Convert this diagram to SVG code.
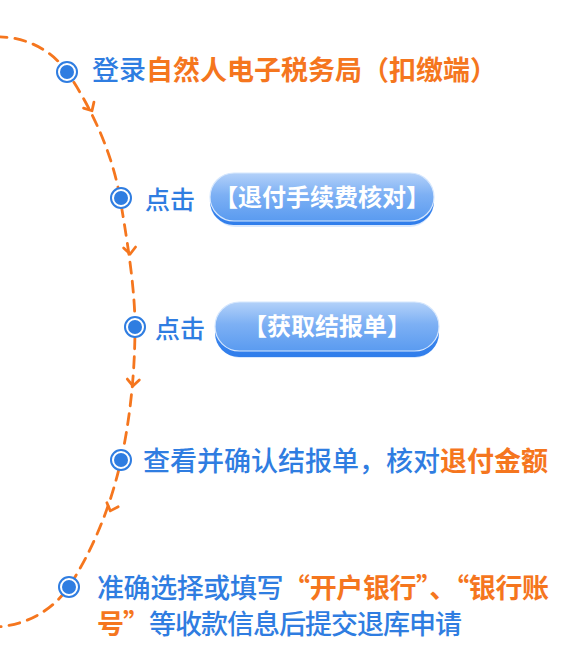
<svg xmlns="http://www.w3.org/2000/svg" width="579" height="671" viewBox="0 0 579 671">
<defs>
<style>
.t{font-family:"Noto Sans CJK SC","Noto Sans",sans-serif;font-size:27px;fill:#2F7DE1;font-weight:500}
.o{fill:#F5761E;font-weight:700}
.bt{font-family:"Noto Sans CJK SC","Noto Sans",sans-serif;font-size:24px;fill:#ffffff;font-weight:700;text-anchor:middle}
.dash{fill:none;stroke:#F5761E;stroke-width:2.8;stroke-dasharray:11 8;stroke-linecap:round}
.chev{fill:none;stroke:#F5761E;stroke-width:2.8;stroke-linecap:round;stroke-linejoin:round}
.ring{fill:#ffffff;stroke:#2F7DE1;stroke-width:2}
.dot{fill:#2F7DE1}
</style>
<linearGradient id="gBody" x1="0" y1="0" x2="0" y2="1">
<stop offset="0" stop-color="#B3D1F9"/>
<stop offset="0.45" stop-color="#7DB0F4"/>
<stop offset="1" stop-color="#5A9BF0"/>
</linearGradient>
<linearGradient id="gBase" x1="0" y1="0" x2="0" y2="1">
<stop offset="0" stop-color="#4A90F0"/>
<stop offset="1" stop-color="#2F7DEB"/>
</linearGradient>
<path id="chevron" d="M -6 -4.5 L 0 2 L 6 -4.5"/>
<g id="marker">
<circle r="10" class="ring"/>
<circle r="7" class="dot"/>
</g>
</defs>
<rect width="579" height="671" fill="#ffffff"/>

<g id="connectors">
<path class="dash" d="M -4 37 C 25 36 52 50 67 72 C 88 102 112 150 120 198 C 128 245 135 290 135 327 C 135 372 130 420 121 460 C 111 506 92 552 68 588 C 52 610 28 625 -4 627"/>
<use href="#chevron" class="chev" transform="translate(91 109) rotate(-30)"/>
<use href="#chevron" class="chev" transform="translate(130 252) rotate(-5)"/>
<use href="#chevron" class="chev" transform="translate(133 384) rotate(4)"/>
<use href="#chevron" class="chev" transform="translate(111 509) rotate(20)"/>
</g>

<g id="step1">
<use href="#marker" transform="translate(67 72)"/>
<text class="t" x="92" y="80">登录<tspan class="o">自然人电子税务局（扣缴端）</tspan></text>
</g>

<g id="step2">
<use href="#marker" transform="translate(121 198)"/>
<text class="t" x="145" y="209" style="font-size:25px">点击</text>
<g id="btn1">
<rect x="212" y="180" width="221" height="47" rx="23.5" fill="#BFD9FB" opacity="0.6"/>
<rect x="210" y="178" width="224" height="47" rx="23.5" fill="url(#gBase)"/>
<rect x="210" y="173" width="224" height="48" rx="24" fill="url(#gBody)" stroke="#D6E7FD" stroke-width="1.2"/>
<text class="bt" x="322" y="206">【退付手续费核对】</text>
</g>
</g>

<g id="step3">
<use href="#marker" transform="translate(135 327)"/>
<text class="t" x="155" y="338" style="font-size:25px">点击</text>
<g id="btn2">
<rect x="217" y="311" width="221" height="47" rx="23.5" fill="#BFD9FB" opacity="0.6"/>
<rect x="215" y="309" width="224" height="48" rx="24" fill="url(#gBase)"/>
<rect x="215" y="302" width="224" height="49" rx="24.5" fill="url(#gBody)" stroke="#D6E7FD" stroke-width="1.2"/>
<text class="bt" x="327" y="335">【获取结报单】</text>
</g>
</g>

<g id="step4">
<use href="#marker" transform="translate(121 460)"/>
<text class="t" x="143" y="471">查看并确认结报单，核对<tspan class="o">退付金额</tspan></text>
</g>

<g id="step5">
<use href="#marker" transform="translate(69 587)"/>
<text class="t" x="97" y="598" textLength="452" lengthAdjust="spacing">准确选择或填写<tspan class="o">“开户银行”、“银行账</tspan></text>
<text class="t" x="97" y="634" textLength="365" lengthAdjust="spacing"><tspan class="o">号”</tspan>等收款信息后提交退库申请</text>
</g>
</svg>
